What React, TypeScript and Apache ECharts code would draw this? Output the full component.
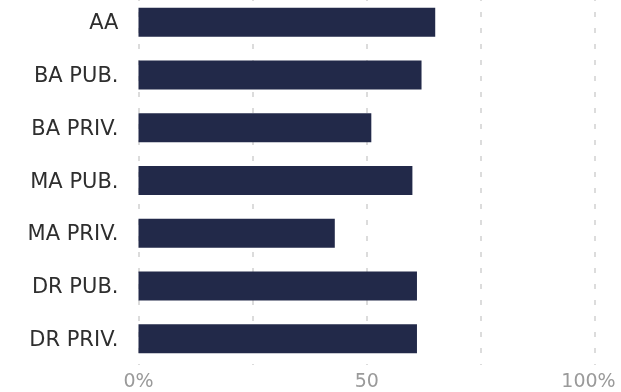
import React, { useEffect, useRef } from "react";
import * as echarts from "echarts";

const categories = ["AA", "BA PUB.", "BA PRIV.", "MA PUB.", "MA PRIV.", "DR PUB.", "DR PRIV."];
const values = [65, 62, 51, 60, 43, 61, 61];
const tickLabels: Record<number, string> = { 0: "0%", 50: "50", 100: "{r|100%}" };

export default function App() {
  const ref = useRef<HTMLDivElement>(null);
  useEffect(() => {
    if (!ref.current) return;
    const chart = echarts.init(ref.current, null, { renderer: "svg" });
    chart.setOption({
      animation: false,
      grid: { left: 138.5, right: 26, top: 0, bottom: 27, containLabel: false },
      xAxis: {
        type: "value",
        min: 0,
        max: 100,
        interval: 25,
        axisLine: { show: false },
        axisTick: { show: false },
        splitLine: { show: true, lineStyle: { color: "#dcdcdc", width: 2, type: [5, 11] } },
        axisLabel: {
          color: "#9a9a9a",
          fontFamily: "DejaVu Sans",
          fontSize: 19,
          margin: 5,
          formatter: (v: number) => tickLabels[v] ?? "",
          rich: { r: { color: "#9a9a9a", fontFamily: "DejaVu Sans", fontSize: 19, padding: [0, 13, 0, 0] } },
        },
      },
      yAxis: {
        type: "category",
        data: categories,
        inverse: true,
        axisLine: { show: false },
        axisTick: { show: false },
        splitLine: { show: false },
        axisLabel: { color: "#2e2e2e", fontFamily: "DejaVu Sans", fontSize: 21, margin: 20 },
      },
      series: [
        {
          type: "bar",
          data: values,
          barWidth: 29,
          itemStyle: { color: "#222949" },
        },
      ],
    });
    return () => chart.dispose();
  }, []);
  return <div ref={ref} style={{ position: "fixed", left: 0, top: -4, width: 621, height: 396 }} />;
}
